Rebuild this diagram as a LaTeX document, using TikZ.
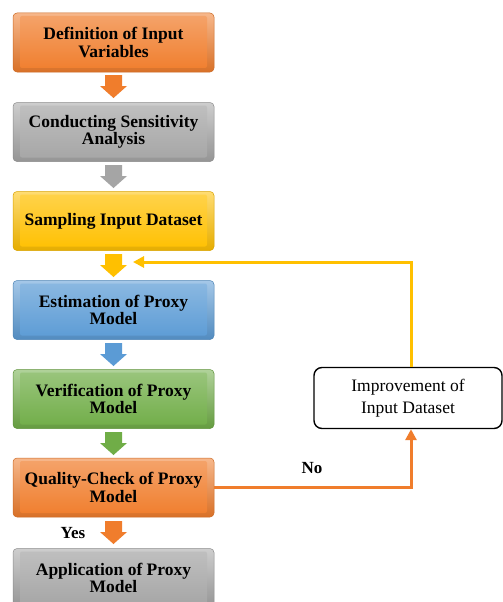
\documentclass[tikz,border=0pt]{standalone}
\usepackage{fontspec}
\setmainfont{Liberation Serif}
\usetikzlibrary{calc,arrows.meta}
\definecolor{cOra}{HTML}{F07D2C}
\definecolor{cGra}{HTML}{A5A5A5}
\definecolor{cYel}{HTML}{FFC000}
\definecolor{cBlu}{HTML}{5B9BD5}
\definecolor{cGrn}{HTML}{70AD47}
\tikzset{
  stage/.style={rounded corners=4pt, draw=#1!85!black, line width=0.5pt,
    top color=#1!55!white, bottom color=#1!90!black,
    minimum width=201pt, minimum height=59pt, inner sep=0pt, align=center,
    text=black, font=\fontsize{17.5}{17.5}\selectfont\bfseries,
    path picture={\shade[top color=#1!70!white, bottom color=#1, rounded corners=2pt]
      ($(path picture bounding box.south west)+(7pt,4pt)$) rectangle
      ($(path picture bounding box.north east)+(-7pt,-3pt)$);}},
  sidebox/.style={draw=black, line width=1.4pt, rounded corners=8pt, fill=white,
    minimum width=188pt, minimum height=61pt, align=center, inner sep=0pt,
    font=\fontsize{17.5}{21.5}\selectfont},
  loopline/.style={line width=3pt},
  lbl/.style={font=\fontsize{17}{17}\selectfont\bfseries}
}
\newcommand\blockarr[3]{% colour, x centre, y top
  \fill[#1] (#2-8.5,#3) -- (#2+8.5,#3) -- (#2+8.5,#3+11) -- (#2+13.5,#3+11)
    -- (#2,#3+23) -- (#2-13.5,#3+11) -- (#2-8.5,#3+11) -- cycle;}
\begin{document}
\begin{tikzpicture}[x=1pt,y=-1pt]
\clip (0,0) rectangle (503,602);
\fill[white] (0,0) rectangle (503,602);
\node[stage=cOra] (b1) at (113.5,42.5) {Definition of Input\\Variables};
\node[stage=cGra] (b2) at (113.5,132) {Conducting Sensitivity\\Analysis};
\node[stage=cYel] (b3) at (113.5,221) {Sampling Input Dataset};
\node[stage=cBlu] (b4) at (113.5,310) {Estimation of Proxy\\Model};
\node[stage=cGrn] (b5) at (113.5,399) {Verification of Proxy\\Model};
\node[stage=cOra] (b6) at (113.5,487.5) {Quality-Check of Proxy\\Model};
\node[stage=cGra] (b7) at (113.5,578) {Application of Proxy\\Model};
\node[sidebox] (imp) at (408,398) {Improvement of\\Input Dataset};
\blockarr{cOra}{113.5}{75}
\blockarr{cGra}{113.5}{165}
\blockarr{cYel}{113.5}{254}
\blockarr{cBlu}{113.5}{343}
\blockarr{cGrn}{113.5}{432}
\blockarr{cOra}{113.5}{521}
\coordinate (fbin) at (133,262);
\coordinate (impt) at ($(imp.north)+(3pt,0)$);
\coordinate (impb) at ($(imp.south)+(3pt,0)$);
\draw[loopline, cYel, -{Triangle[length=11pt,width=11pt]}] (impt) -- (impt |- fbin) -- (fbin);
\draw[loopline, cOra, -{Triangle[length=11pt,width=11pt]}] (b6.east) -| (impb);
\node[lbl] (no) at (312,468) {No};
\node[lbl] (yes) at (73,533) {Yes};
\end{tikzpicture}
\end{document}
